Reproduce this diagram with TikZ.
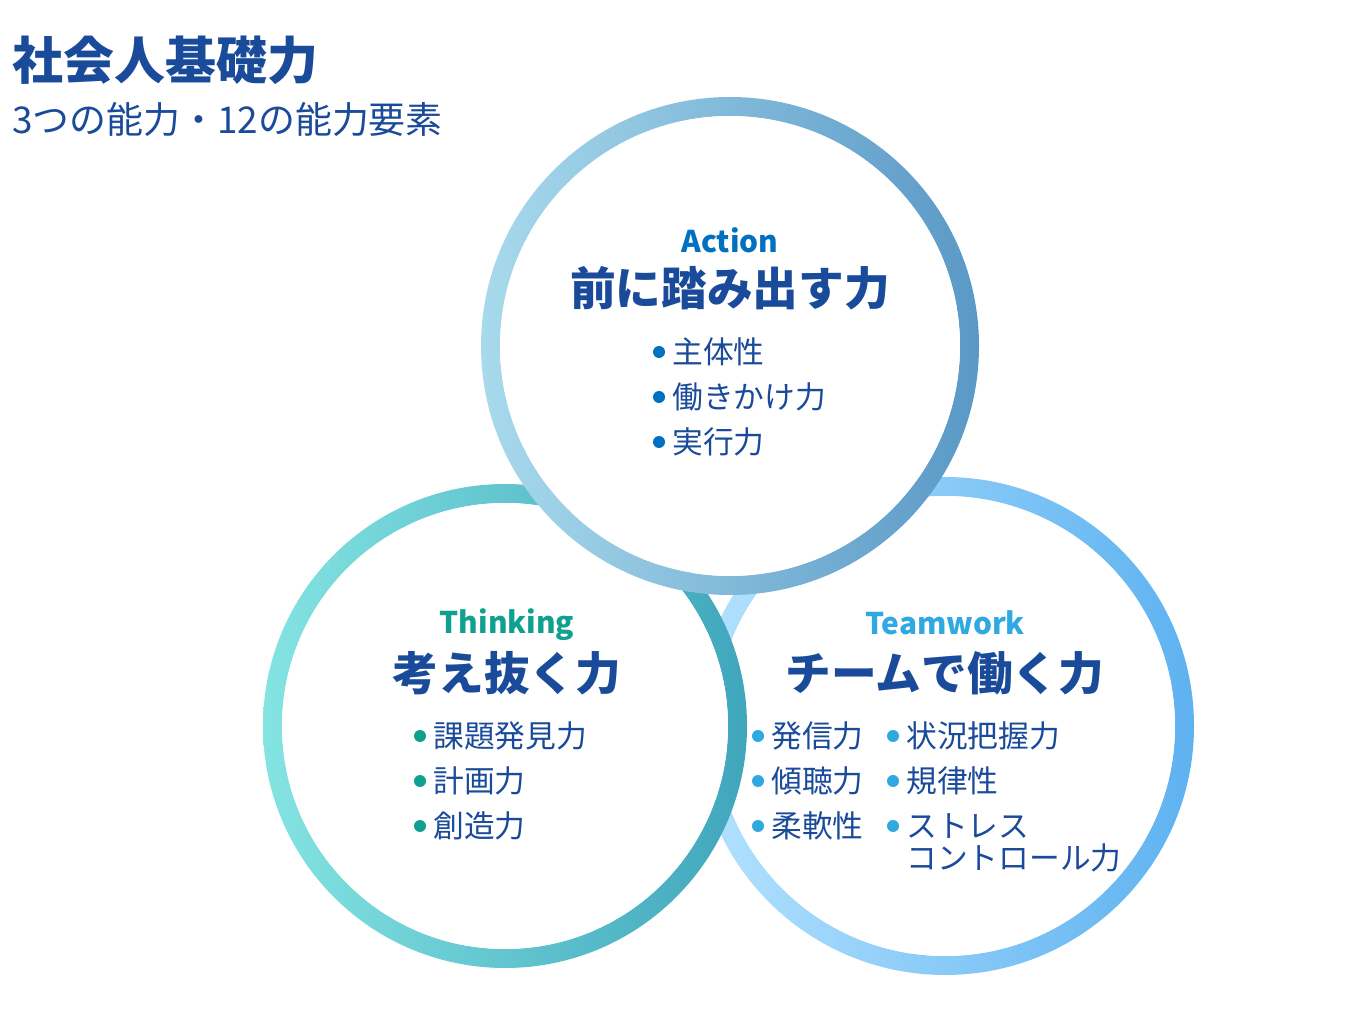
\documentclass[tikz,border=0pt]{standalone}
\usepackage{fontspec}
\setmainfont{Noto Sans CJK JP}
\usetikzlibrary{positioning}
\definecolor{navy}{HTML}{1A4A9A}
\definecolor{actblue}{HTML}{0070C0}
\definecolor{thinkgreen}{HTML}{10A090}
\definecolor{teamblue}{HTML}{30A8E0}
\definecolor{actL}{HTML}{A8DAEC}
\definecolor{actR}{HTML}{5A98C6}
\definecolor{thinkL}{HTML}{84E4E2}
\definecolor{thinkR}{HTML}{40A6BC}
\definecolor{teamL}{HTML}{B4E2FF}
\definecolor{teamR}{HTML}{5EB2F0}

\begin{document}
\begin{tikzpicture}[x=0.02cm, y=-0.02cm,
    ring/.style={even odd rule},
    heading/.style={font=\fontsize{26}{29}\selectfont\bfseries, text=navy},
    tag/.style={font=\fontsize{17}{20}\selectfont\bfseries},
    item/.style={font=\fontsize{17.5}{20}\selectfont, text=navy, anchor=west, inner sep=0pt},
]
\useasboundingbox (0,0) rectangle (1360,1016);

% Title
\node[font=\fontsize{29}{32}\selectfont\bfseries, text=navy, anchor=west, inner sep=0pt] (title) at (12,60) {社会人基礎力};
\node[font=\fontsize{21}{24}\selectfont, text=navy, anchor=west, inner sep=0pt] (subtitle) at (12,120) {3つの能力・12の能力要素};

% Rings, each with a white inside
\shade[ring, left color=teamL, right color=teamR] (945,726) circle (249) (945,726) circle (230);
\fill[white] (945,726) circle (230);
\shade[ring, left color=thinkL, right color=thinkR] (505,726) circle (242) (505,726) circle (223);
\fill[white] (505,726) circle (223);
\shade[ring, left color=actL, right color=actR] (730,346) circle (249) (730,346) circle (230);
\fill[white] (730,346) circle (230);

% Action
\node[tag, text=actblue] (actTag) at (730,240) {Action};
\node[heading] (actHead) at (730,288) {前に踏み出す力};
\foreach \txt [count=\i] in {主体性, 働きかけ力, 実行力} {
  \fill[actblue] (659,352+45*\i-45) circle (6);
  \node[item] (act\i) at (672,352+45*\i-45) {\txt};
}

% Thinking
\node[tag, text=thinkgreen] (thinkTag) at (507,625) {Thinking};
\node[heading] (thinkHead) at (507,673) {考え抜く力};
\foreach \txt [count=\i] in {課題発見力, 計画力, 創造力} {
  \fill[thinkgreen] (420,736+45*\i-45) circle (6);
  \node[item] (think\i) at (433,736+45*\i-45) {\txt};
}

% Teamwork
\node[tag, text=teamblue] (teamTag) at (945,623) {Teamwork};
\node[heading] (teamHead) at (945,673) {チームで働く力};
\foreach \txt [count=\i] in {発信力, 傾聴力, 柔軟性} {
  \fill[teamblue] (758,736+45*\i-45) circle (6);
  \node[item] (teamL\i) at (771,736+45*\i-45) {\txt};
}
\foreach \txt [count=\i] in {状況把握力, 規律性, ストレス} {
  \fill[teamblue] (893,736+45*\i-45) circle (6);
  \node[item] (teamR\i) at (906,736+45*\i-45) {\txt};
}
\node[item] (teamR4) at (906,858) {コントロール力};

\end{tikzpicture}
\end{document}
